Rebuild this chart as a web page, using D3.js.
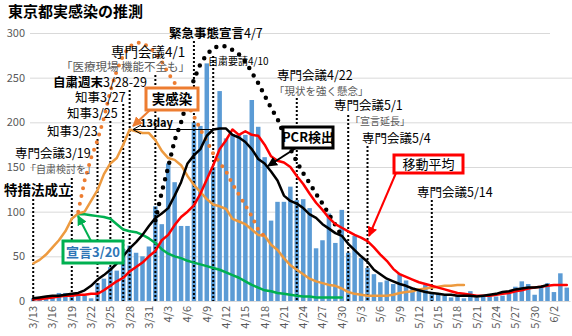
<!DOCTYPE html>
<html><head><meta charset="utf-8">
<script src="https://cdn.jsdelivr.net/npm/d3@7"></script>
<style>
html,body{margin:0;padding:0;background:#fff;}
svg{display:block;}
text{font-family:"Noto Sans CJK JP","Noto Sans",sans-serif;}
</style></head>
<body>
<svg id="c" width="572" height="336"></svg>
<script>
const dates = ["3/13","3/14","3/15","3/16","3/17","3/18","3/19","3/20","3/21","3/22","3/23","3/24","3/25","3/26","3/27","3/28","3/29","3/30","3/31",
"4/1","4/2","4/3","4/4","4/5","4/6","4/7","4/8","4/9","4/10","4/11","4/12","4/13","4/14","4/15","4/16","4/17","4/18","4/19","4/20","4/21","4/22","4/23","4/24","4/25","4/26","4/27","4/28","4/29","4/30",
"5/1","5/2","5/3","5/4","5/5","5/6","5/7","5/8","5/9","5/10","5/11","5/12","5/13","5/14","5/15","5/16","5/17","5/18","5/19","5/20","5/21","5/22","5/23","5/24","5/25","5/26","5/27","5/28","5/29","5/30","5/31",
"6/1","6/2","6/3","6/4"];
const tickLabels = ["3/13","3/16","3/19","3/22","3/25","3/28","3/31","4/3","4/6","4/9","4/12","4/15","4/18","4/21","4/24","4/27","4/30","5/3","5/6","5/9","5/12","5/15","5/18","5/21","5/24","5/27","5/30","6/2"];
const yTicks = [0,50,100,150,200,250,300];

// daily cases (bars)
const daily = [3,2,3,5,9,9,8,7,6,3,20,25,38,34,58,62,54,50,61,
106,86,154,133,84,84,200,196,266,150,235,182,187,187,186,225,195,161,90,111,111,128,113,114,104,59,68,98,65,102,
54,73,48,37,30,21,23,19,30,23,15,12,18,9,8,6,4,6,3,11,4,6,5,5,6,8,16,22,19,7,16,
20,10,31,15];
// PCR検出 (black solid)
const pcr = [3,4,5,6,6,7,8,9,12,17,24,29,35,42,50,59,66,74,84,
93,98,104,118,133,154,163,170,185,192,193,193,186,183,178,170,159,154,145,135,118,112,109,104,97,93,86,81,76,73,
64,57,50,44,35,30,25,22,19,17,14,12,10,9,8,7,7,6,6,6,5,6,7,8,10,11,13,14,15,15,16,
18,null,null,null];
// 移動平均 (red)
const movingAvg = [2,2,3,4,5,6,6,7,7,8,8,12,17,22,26,33,38,43,50,
56,68,74,85,94,100,107,120,136,152,170,180,192,186,190,186,185,175,162,157,155,150,140,131,120,110,102,93,86,82,
78,74,71,67,60,52,45,36,30,27,24,21,19,17,15,13,11,9,8,7,6,6,6,7,8,9,11,12,14,15,16,
17,18,18,18];
// 実感染 estimate (orange solid)
const infection = [42,46,52,60,68,78,92,98,100,112,124,142,154,160,175,192,190,188,188,
180,168,160,158,152,140,130,122,114,108,106,103,92,89,86,80,74,73,63,57,48,40,35,30,25,22,20,18,17,14,
10,8,7,6,6,6,6,7,9,10,11,13,14,15,16,17,17,18,18,null,null,null,null,null,null,null,null,null,null,null,null,
null,null,null,null];
// 実感染 curve (orange dotted)
const infectionCurve = [null,null,null,null,null,null,null,100,135,160,180,205,235,258,275,285,289,289,284,
278,268,255,244,232,220,207,192,179,165,155,145,131,119,107,95,80,72];
// bell curve (black dotted)
const bellCurve = [null,null,null,null,null,null,null,null,null,null,null,null,null,null,null,null,null,null,null,
90,122,150,180,200,225,248,265,276,283,286,285,281,276,268,256,244,230,216,204,186,170,156,143,132,120,109,97,85,73];
// 宣言3/20 (green)
const declared = [null,null,null,null,null,null,null,97,97,96,95,94,92,86,80,78,77,74,70,
65,58,53,50,48,45,43,41,39,37,35,32,29,26,22,18,15,12,11,9,8,7,6,5,5,4,4,4,4,4];

// event markers: date index, label lines
const events = [
 {d:"3/13", top:199, lines:[{t:"特措法成立", x:4, y:195, size:13.5, w:"bold"}]},
 {d:"3/19", top:178, lines:[{t:"専門会議3/19", x:15, y:158, size:12.5},{t:"「自粛検討を」", x:26, y:173, size:10, fill:"#595959"}]},
 {d:"3/23", top:139, lines:[{t:"知事3/23", x:47, y:136, size:12.5}]},
 {d:"3/25", top:121, lines:[{t:"知事3/25", x:67, y:118, size:12.5}]},
 {d:"3/27", top:104, lines:[{t:"知事3/27", x:75, y:102, size:12.5}]},
 {d:"3/28", top:90, lines:[{t:"自粛週末", x:53, y:87, size:12.5, w:"bold", tail:"3/28-29"}]},
 {d:"4/1", top:75, lines:[{t:"専門会議4/1", x:111, y:57, size:13.5},{t:"「医療現場 機能不全も」", x:61, y:71, size:11.5, fill:"#595959"}]},
 {d:"4/7", top:41, lines:[{t:"緊急事態宣言", x:169, y:38, size:12.5, w:"bold", tail:"4/7"}]},
 {d:"4/10", top:56, lines:[{t:"自粛要請4/10", x:208, y:65, size:10}]},
 {d:"4/23", top:98, lines:[{t:"専門会議4/22", x:277, y:80, size:12.5},{t:"「現状を強く懸念」", x:274, y:95, size:10.5, fill:"#595959"}]},
 {d:"5/1", top:115, lines:[{t:"専門会議5/1", x:334, y:110, size:12.5},{t:"「宣言延長」", x:350, y:125, size:10, fill:"#595959"}]},
 {d:"5/4", top:146, lines:[{t:"専門会議5/4", x:362, y:143, size:12.5}]},
 {d:"5/14", top:200, lines:[{t:"専門会議5/14", x:417, y:197, size:12.5}]}
];

const svg = d3.select("#c");
const x = d3.scaleBand().domain(dates).range([30, 570]).paddingInner(0.3).paddingOuter(0.15);
const y = d3.scaleLinear().domain([0, 300]).range([301, 33]);
const cx = d => x(d) + x.bandwidth() / 2;

// gridlines
svg.append("g").selectAll("line").data(yTicks.filter(v => v > 0)).join("line")
  .attr("x1", 30).attr("x2", v => v === 300 ? 550 : 572)
  .attr("y1", v => y(v) + 0.5).attr("y2", v => y(v) + 0.5)
  .attr("stroke", "#d9d9d9").attr("stroke-width", 1);

// y axis labels
const yAxis = d3.axisLeft(y).tickValues(yTicks).tickSize(0).tickPadding(0);
svg.append("g").attr("transform", "translate(25,0)").call(yAxis)
  .call(g => g.select(".domain").remove())
  .call(g => g.selectAll("text").attr("font-size", 11).attr("fill", "#595959")
    .attr("font-family", "Roboto, 'Noto Sans', sans-serif"));

// bars
svg.append("g").selectAll("rect").data(daily).join("rect")
  .attr("x", (v, i) => x(dates[i]))
  .attr("width", x.bandwidth())
  .attr("y", v => y(v))
  .attr("height", v => y(0) - y(v))
  .attr("fill", "#5b9bd5");

// x axis
const xAxis = d3.axisBottom(x).tickValues(tickLabels).tickSize(0).tickPadding(0);
svg.append("g").attr("transform", "translate(0,301)").call(xAxis)
  .call(g => g.select(".domain").attr("stroke", "#d9d9d9"))
  .call(g => g.selectAll("text")
    .attr("font-size", 11).attr("fill", "#595959")
    .attr("font-family", "Roboto, 'Noto Sans', sans-serif")
    .attr("text-anchor", "end")
    .attr("transform", "translate(0,5) rotate(-90)")
    .attr("x", 0).attr("y", 0).attr("dy", "0.35em"));

// event lines
const ev = svg.append("g");
events.forEach(e => {
  ev.append("line").attr("x1", cx(e.d)).attr("x2", cx(e.d))
    .attr("y1", e.top).attr("y2", y(0))
    .attr("stroke", "#000").attr("stroke-width", 2).attr("stroke-dasharray", "2,2");
});

const line = d3.line().defined(v => v != null).x((v, i) => cx(dates[i])).y(v => y(v)).curve(d3.curveLinear);

function drawLine(data, color, width, dash) {
  const p = svg.append("path").datum(data).attr("d", line)
    .attr("fill", "none").attr("stroke", color).attr("stroke-width", width)
    .attr("stroke-linejoin", "round").attr("stroke-linecap", "round");
  if (dash) p.attr("stroke-dasharray", dash);
  return p;
}
drawLine(declared, "#00b050", 2.5);
drawLine(infection, "#ed9a3f", 2.5);
drawLine(infectionCurve, "#ed7d31", 4, "0,8");
drawLine(bellCurve, "#000", 4.5, "0,8.5");
drawLine(movingAvg, "#ff0000", 2.5);
drawLine(pcr, "#000", 2.5);

// labels for events
events.forEach(e => {
  e.lines.forEach(l => {
    const t = svg.append("text").attr("x", l.x).attr("y", l.y)
      .attr("font-size", l.size).attr("fill", l.fill || "#000")
      .attr("text-anchor", "start");
    t.append("tspan").attr("font-weight", l.w || "normal").text(l.t);
    if (l.tail) t.append("tspan").attr("font-weight", "normal").text(l.tail);
  });
});

// title
svg.append("text").attr("x", 8).attr("y", 17).attr("font-size", 15).attr("font-weight", "bold").text("東京都実感染の推測");

// arrow markers
const defs = svg.append("defs");
function marker(id, color) {
  defs.append("marker").attr("id", id).attr("viewBox", "0 0 10 10").attr("refX", 9).attr("refY", 5)
    .attr("markerWidth", 5).attr("markerHeight", 5).attr("orient", "auto-start-reverse")
    .append("path").attr("d", "M0,0L10,5L0,10z").attr("fill", color);
}
marker("aO", "#ed7d31"); marker("aK", "#000"); marker("aR", "#ff0000"); marker("aG", "#00b050");

function callout(txt, bx, by, bw, bh, color, textColor, arrow, mk, size, weight) {
  svg.append("line").attr("x1", arrow[0]).attr("y1", arrow[1]).attr("x2", arrow[2]).attr("y2", arrow[3])
    .attr("stroke", color).attr("stroke-width", 2).attr("marker-end", `url(#${mk})`);
  svg.append("rect").attr("x", bx).attr("y", by).attr("width", bw).attr("height", bh)
    .attr("fill", "#fff").attr("stroke", color).attr("stroke-width", 3);
  svg.append("text").attr("x", bx + bw / 2).attr("y", by + bh / 2).attr("dy", "0.36em")
    .attr("text-anchor", "middle").attr("font-size", size).attr("font-weight", weight)
    .attr("fill", textColor).text(txt);
}
callout("実感染", 146, 88, 52, 22, "#ed7d31", "#000", [150, 110, 133, 126], "aO", 13.5, "bold");
callout("PCR検出", 283, 127, 50, 21, "#000", "#000", [296, 148, 268, 166], "aK", 13, "bold");
callout("移動平均", 394, 155, 69, 18, "#ff0000", "#000", [396, 173, 369, 236], "aR", 13, "normal");
callout("宣言3/20", 63, 241, 60, 22, "#00b050", "#2e75b6", [91, 241, 78, 216], "aG", 13, "bold");

// 13day arrow
svg.append("line").attr("x1", 215).attr("y1", 129.5).attr("x2", 133).attr("y2", 129.5)
  .attr("stroke", "#000").attr("stroke-width", 1);
svg.append("path").attr("d", "M141,125L133,129.5L141,134").attr("fill", "none").attr("stroke", "#000").attr("stroke-width", 1);
svg.append("text").attr("x", 140).attr("y", 127).attr("font-size", 11).attr("font-weight", "bold").text("13day");
</script>
</body></html>
